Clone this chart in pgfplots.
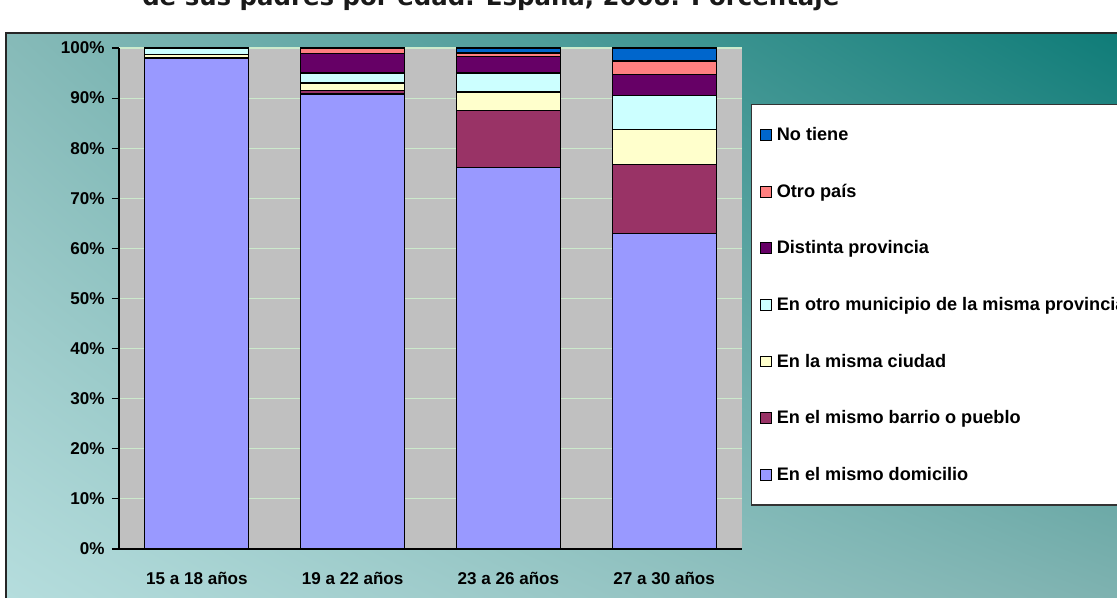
\documentclass[border=0pt]{standalone}
\usepackage{pgfplots}
\pgfplotsset{compat=1.18}
\usetikzlibrary{shadings}
\usepackage{fontspec}
\setmainfont{Liberation Sans}
\newfontfamily\titlefont{DejaVu Sans}
\definecolor{cDom}{HTML}{9999FF}
\definecolor{cBar}{HTML}{993366}
\definecolor{cCiu}{HTML}{FFFFCC}
\definecolor{cMun}{HTML}{CCFFFF}
\definecolor{cDis}{HTML}{660066}
\definecolor{cPai}{HTML}{FF8080}
\definecolor{cNo}{HTML}{0066CC}
\definecolor{plotgrey}{HTML}{C0C0C0}
\definecolor{gridgreen}{HTML}{CCEACC}
\definecolor{bgUL}{HTML}{86BAB8}
\definecolor{bgUR}{HTML}{0F7C78}
\definecolor{bgLL}{HTML}{B5DDDD}
\definecolor{bgLR}{HTML}{7EB2B0}
\begin{document}
\begin{tikzpicture}[x=0.75pt,y=0.75pt]
\useasboundingbox (0,0) rectangle (1117,597);
\begin{scope}
\clip (0,0) rectangle (1117,597);
\fill[white] (0,0) rectangle (1117,597);
\shade[upper left=bgUL, upper right=bgUR, lower left=bgLL, lower right=bgLR] (6,0) rectangle (1117,564);
\draw[line width=1.2pt, black!85] (6,-5) -- (6,564) -- (1125,564);
\node[anchor=base west, font=\titlefont\bfseries\fontsize{18.3}{20}\selectfont, inner sep=0, text=black!90] at (142,591) {de sus padres por edad. España, 2008. Porcentaje};
\begin{axis}[
  at={(89.25pt,36pt)}, anchor=south west,
  scale only axis, width=467.25pt, height=375.75pt,
  ybar stacked, bar width=78pt,
  xmin=-0.5, xmax=3.5, ymin=0, ymax=100,
  xtick={0,1,2,3},
  xticklabels={15 a 18 años,19 a 22 años,23 a 26 años,27 a 30 años},
  major x tick style={draw=none},
  extra x ticks={-0.5,0.5,1.5,2.5,3.5},
  extra x tick labels={},
  extra x tick style={grid=none, major tick length=5.25pt, tick align=outside, tick style={black, line width=0.8pt}},
  ytick={0,10,...,100},
  yticklabels={0\%,10\%,20\%,30\%,40\%,50\%,60\%,70\%,80\%,90\%,100\%},
  ymajorgrids, grid style={gridgreen, line width=0.8pt},
  axis background/.style={fill=plotgrey},
  axis x line*=bottom, axis y line*=left,
  axis line style={-, black, line width=1pt},
  tick align=outside, major tick length=5.25pt,
  tick style={black, line width=0.8pt},
  ticklabel style={font=\bfseries\fontsize{12.8}{14}\selectfont},
  xticklabel style={yshift=-8.5pt},
  yticklabel style={xshift=-2pt},
  reverse legend,
  legend cell align=left,
  legend image code/.code={\draw[#1, line width=0.7pt] (0pt,-4pt) rectangle (8.2pt,4.2pt);},
  legend style={at={(rel axis cs:1.0144,0.888)}, anchor=north west, draw=black!80, line width=1pt, fill=white,
    font=\bfseries\fontsize{13.6}{15}\selectfont, inner xsep=6pt, inner ysep=15pt, row sep=27.1pt,
    nodes={inner xsep=4pt}},
]
\addplot[fill=cDom, draw=black, line width=0.9pt] coordinates {(0,97.9) (1,90.8) (2,76.2) (3,62.9)};
\addplot[fill=cBar, draw=black, line width=0.9pt] coordinates {(0,0.2) (1,0.7) (2,11.4) (3,13.9)};
\addplot[fill=cCiu, draw=black, line width=0.9pt] coordinates {(0,0.6) (1,1.5) (2,3.6) (3,7.0)};
\addplot[fill=cMun, draw=black, line width=0.9pt] coordinates {(0,1.2) (1,2.0) (2,3.8) (3,6.7)};
\addplot[fill=cDis, draw=black, line width=0.9pt] coordinates {(0,0.1) (1,3.9) (2,3.3) (3,4.2)};
\addplot[fill=cPai, draw=black, line width=0.9pt] coordinates {(0,0.0) (1,1.1) (2,0.7) (3,2.7)};
\addplot[fill=cNo, draw=black, line width=0.9pt] coordinates {(0,0.0) (1,0.0) (2,1.0) (3,2.6)};
\legend{En el mismo domicilio,En el mismo barrio o pueblo,En la misma ciudad,En otro municipio de la misma provincia,Distinta provincia,Otro país,No tiene}
\end{axis}
\end{scope}
\end{tikzpicture}
\end{document}
